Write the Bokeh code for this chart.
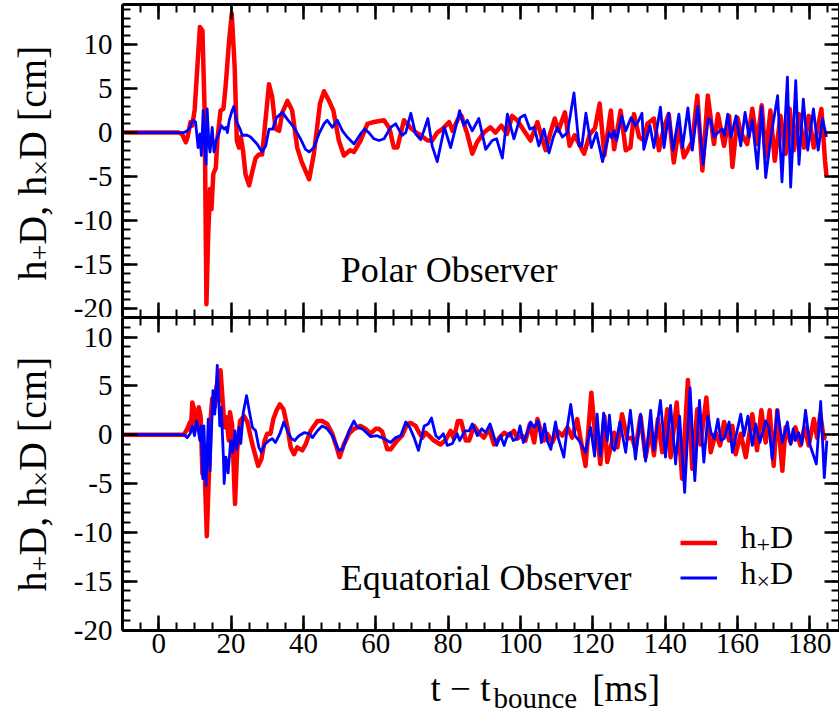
from math import pi
from bokeh.plotting import figure
from bokeh.models import (Range1d, LinearAxis, SingleIntervalTicker, Label,
                          Legend, LegendItem, CustomJSTickFormatter)
from bokeh.core.properties import value
from bokeh.layouts import column, row
from bokeh.embed import file_html
from bokeh.resources import INLINE

# ---------------- data ----------------
x_ticks_interval = 20
y_ticks_interval = 5

polar_t_plus = [
    -10, 5.6, 6.5, 7.5, 8.0, 8.8, 9.3, 9.95, 10.7, 11.4,
    12.1, 12.7, 13.2, 13.7, 14.2, 14.6, 15.1, 15.8, 16.2, 17.1,
    17.9, 18.5, 19.4, 20.2, 21.0, 21.6, 22.2, 22.7, 23.3, 24.0,
    25.0, 25.9, 26.8, 27.7, 28.6, 29.6, 30.5, 31.4, 32.3, 33.3,
    34.2, 35.6, 36.9, 38.3, 39.5, 41.6, 42.9, 44.6, 45.7, 47.1,
    48.3, 49.8, 51.2, 52.9, 54.0, 55.8, 57.7, 59.5, 62.3, 63.8,
    65.0, 66.0, 67.8, 69.5, 71.0, 72.4, 74.3, 75.6, 77.0, 78.4,
    80.3, 81.2, 82.7, 83.7, 85.3, 86.7, 88.0, 89.9, 91.7, 93.1,
    94.7, 96.3, 97.7, 99.1, 101.0, 102.8, 104.7, 106.0, 107.0, 108.3,
    109.5, 110.5, 112.3, 113.6, 115.0, 117.6, 119.2, 120.6, 121.9, 123.2,
    125.0, 125.9, 127.7, 129.1, 130.4, 131.4, 132.8, 134.1, 135.1, 136.9,
    138.3, 139.7, 141.0, 142.4, 143.8, 145.2, 147.5, 148.9, 150.3, 151.8,
    153.5, 154.6, 156.3, 157.7, 158.6, 160.0, 160.9, 162.7, 164.1, 165.4,
    166.7, 167.8, 169.1, 170.3, 171.9, 173.3, 174.4, 175.6, 177.0, 178.4,
    179.7, 181.1, 183.2, 184.2, 184.6]
polar_plus = [
    0, 0, -0.2, -1.1, -0.5, 1.2, 0.8, 2.6, 7.5, 12.0,
    11.6, 2.5, -19.5, -11.5, -6.4, -8.7, -4.7, -4.0, -0.9, 2.5,
    2.7, 5.2, 10.1, 13.5, 7.5, -0.9, -1.7, -0.5, -2.0, -4.7,
    -6.0, -4.4, -2.9, -2.5, -2.5, 1.7, 5.5, 4.0, 0.4, 0.2,
    2.3, 3.6, 2.5, -1.7, -3.3, -5.3, -2.4, 3.3, 4.7, 3.6,
    2.5, -0.9, -2.6, -2.0, -2.2, -0.9, 1.0, 1.2, 1.4, 0.5,
    -1.7, -1.7, 1.4, 0.6, 0.05, -0.3, -0.9, -0.9, 0.0, 0.4,
    1.2, 0.2, 1.5, 1.9, -0.15, -2.4, -1.1, 0.0, 0.6, 0.0,
    0.8, -0.15, 1.9, 1.4, 0.2, -0.9, 1.2, -0.7, -2.0, 0.0,
    1.6, 0.2, 2.3, -1.5, -0.3, -2.4, -0.15, 0.5, 3.3, -2.6,
    2.5, -1.9, 2.5, -2.0, -1.7, 2.1, -0.5, -0.9, 1.0, 1.6,
    -2.0, 0.6, 2.1, -3.4, 0.6, -2.8, -1.0, 4.2, -4.3, 4.2,
    -1.3, 2.1, -1.5, 1.9, -3.9, 1.7, 0.0, -1.3, 2.7, -1.3,
    3.1, -2.8, 2.5, -3.2, 1.9, -2.4, 2.7, -2.0, 2.1, -1.7,
    1.9, -1.7, 2.7, -3.2, -4.9]

polar_t_cross = [
    -10, 7.0, 7.9, 8.7, 9.0, 9.6, 10.2, 10.9, 11.4, 11.8,
    12.3, 12.7, 13.1, 13.4, 13.9, 14.2, 14.8, 15.3, 15.9, 16.7,
    17.3, 18.1, 18.6, 19.0, 19.5, 20.3, 20.8, 21.6, 22.5, 23.1,
    24.5, 25.4, 26.3, 27.2, 28.6, 29.6, 30.5, 31.5, 32.6, 34.2,
    35.6, 37.4, 39.2, 40.6, 41.6, 42.9, 44.3, 45.7, 46.6, 48.0,
    49.4, 50.8, 52.1, 54.0, 55.8, 56.9, 58.1, 59.5, 60.9, 62.3,
    64.1, 65.5, 67.3, 68.3, 69.7, 71.0, 72.4, 73.3, 74.4, 75.6,
    77.0, 79.0, 80.7, 82.1, 83.2, 84.4, 85.3, 86.7, 88.5, 90.4,
    92.2, 93.4, 95.0, 96.4, 98.2, 99.9, 101.2, 102.6, 103.8, 105.1,
    106.5, 107.9, 109.1, 110.2, 111.6, 113.0, 114.8, 116.2, 117.0, 118.1,
    119.6, 121.0, 122.7, 124.5, 125.2, 125.9, 126.6, 128.0, 129.1, 130.6,
    131.8, 132.5, 133.6, 134.1, 135.8, 136.9, 138.7, 139.7, 141.0, 142.2,
    143.8, 144.8, 146.3, 147.5, 149.0, 150.5, 151.9, 152.6, 153.5, 154.5,
    155.8, 156.4, 157.3, 158.2, 159.6, 160.9, 162.1, 163.2, 164.1, 165.5,
    166.7, 167.8, 169.3, 171.1, 172.3, 173.8, 174.7, 176.1, 177.0, 178.2,
    179.4, 181.0, 182.3, 183.5, 184.6]
polar_cross = [
    0, 0, 0.2, 0.6, 1.0, 1.4, 1.2, -1.7, -0.15, -2.6,
    2.5, -1.3, -3.6, 2.7, -1.3, -2.2, 0.6, -2.2, -0.9, 0.0,
    0.8, 0.4, 0.6, 0.0, 1.4, 2.5, 3.0, 1.2, 0.4, -0.3,
    -0.3, -0.5, -0.9, -1.3, -2.2, -1.5, 0.4, 0.4, 1.7, 2.3,
    1.5, 0.6, -0.7, -1.9, -2.2, -1.7, -0.15, 1.0, 1.4, 0.6,
    1.4, 0.2, -0.5, -1.3, -0.15, 0.4, 0.0, -0.7, -0.9, -0.7,
    0.6, 1.0, -0.3, 0.0, 2.2, -0.15, -0.8, 0.2, 1.6, -1.5,
    -3.3, 0.6, -1.7, 0.6, 2.5, 0.8, 1.4, 0.2, 1.6, -1.9,
    -0.9, -0.7, -2.9, 2.1, -0.7, 1.7, 2.0, 0.4, 0.6, -1.5,
    0.4, -2.3, -0.5, 0.6, -0.5, 0.0, 4.5, -1.5, -1.5, 2.2,
    -1.7, 0.0, -3.3, 0.0, -0.6, 0.2, -0.9, 1.9, 0.2, 1.7,
    0.8, 1.2, 2.2, -1.9, 0.8, -1.7, 2.9, -1.7, 2.2, -2.0,
    2.1, -1.7, 2.8, -2.0, 3.0, -3.6, 1.6, 1.4, -0.5, 0.0,
    0.4, -0.3, 2.1, -0.5, 1.9, -1.5, 2.3, -0.5, 1.4, -4.1,
    2.9, -5.1, -0.3, 4.2, -5.6, 6.3, -6.2, 5.9, -3.6, 3.8,
    -2.0, 2.7, -2.0, 1.6, -0.5]

equat_t_plus = [
    -10, 7.0, 7.9, 8.7, 8.9, 9.3, 9.8, 10.4, 11.1, 11.6,
    12.1, 12.6, 13.3, 13.9, 14.4, 14.8, 15.5, 16.0, 16.6, 17.1,
    18.2, 18.7, 19.4, 19.7, 20.3, 21.1, 21.7, 22.5, 23.6, 24.5,
    25.9, 27.5, 28.4, 29.3, 30.0, 30.9, 31.7, 32.6, 33.5, 34.5,
    35.6, 36.5, 37.4, 38.3, 39.7, 40.6, 42.0, 43.9, 45.2, 46.6,
    48.0, 49.2, 50.0, 51.2, 52.6, 54.0, 55.8, 57.2, 58.6, 60.0,
    60.9, 61.8, 63.2, 64.1, 65.9, 67.3, 68.7, 69.7, 71.0, 72.0,
    72.9, 73.8, 74.7, 76.1, 77.9, 79.2, 80.7, 81.6, 82.7, 83.6,
    84.9, 85.8, 87.2, 88.5, 89.9, 91.3, 92.7, 94.0, 95.5, 96.8,
    98.2, 99.1, 100.5, 101.4, 102.6, 103.8, 104.7, 105.6, 106.5, 107.4,
    108.8, 110.2, 111.6, 113.0, 114.3, 115.7, 116.6, 118.0, 119.6, 120.8,
    121.2, 122.1, 123.2, 124.0, 125.9, 126.8, 128.1, 129.5, 130.9, 131.8,
    133.2, 134.6, 136.0, 136.9, 138.0, 139.2, 140.6, 141.5, 143.2, 144.7,
    146.3, 147.5, 148.9, 149.8, 151.4, 152.6, 154.0, 155.2, 156.3, 157.7,
    158.6, 159.5, 160.9, 162.3, 164.1, 165.4, 166.6, 167.8, 168.9, 170.0,
    171.0, 172.4, 173.3, 174.7, 176.0, 177.4, 178.5, 179.7, 181.1, 182.0,
    182.9, 183.8, 184.6]
equat_plus = [
    0, 0, 0.6, 1.3, 0.4, 3.3, 2.6, 0.6, 2.8, 1.9,
    -4.0, -2.3, -10.4, -4.0, 1.8, 3.7, 2.8, 5.0, 3.5, 6.6,
    0.75, 1.8, -0.6, 2.3, 1.0, -7.1, -1.6, 1.4, 1.9, 1.3,
    -1.0, -3.2, -2.5, -0.6, 0.1, 0.1, 1.6, 2.5, 3.1, 2.6,
    0.75, -1.3, -2.0, -1.3, -1.6, -1.0, 0.4, 1.4, 1.4, 1.1,
    0.1, -1.3, -2.3, -1.0, 0.1, 0.6, 0.9, 0.6, 0.1, 0.6,
    0.6, 0.3, -1.5, -1.5, -0.6, -0.1, 1.1, 1.2, 0.9, 0.2,
    -0.3, 0.2, -0.1, -0.6, -1.0, -0.6, 0.4, -0.4, 1.4, 1.4,
    -0.6, -0.6, 0.9, 0.2, -0.3, 0.6, -1.0, -0.4, 0.2, -0.1,
    0.4, -0.4, -0.1, -0.6, 1.1, -0.8, 1.6, 0.4, -0.6, 0.1,
    -0.8, 0.4, -0.1, 0.75, -0.3, 1.6, -0.4, -3.2, 4.3, -0.6,
    -0.1, -3.0, 1.9, -2.8, 0.2, -1.3, 2.1, -0.4, -0.3, -1.5,
    1.9, -2.3, 0.6, -2.1, 1.6, -1.8, 2.6, -2.3, 3.3, -4.5,
    5.6, -3.5, 2.6, -1.0, 3.8, -1.8, 0.2, -1.1, 1.3, -0.6,
    0.9, -2.0, 0.1, -2.3, 2.1, -1.6, 2.5, -0.8, 2.5, -3.2,
    2.5, -3.7, 0.75, -0.8, 0.75, -1.1, 0.75, -1.1, 1.6, -0.3,
    2.1, -0.3, -0.4]

equat_t_cross = [
    -10, 7.0, 7.9, 8.7, 9.3, 9.9, 10.5, 11.4, 11.7, 12.2,
    12.5, 13.1, 13.7, 14.2, 15.0, 15.5, 16.2, 16.9, 17.3, 17.9,
    18.1, 18.6, 19.2, 19.9, 20.5, 21.1, 21.6, 22.2, 22.7, 23.4,
    24.3, 25.0, 25.9, 26.8, 27.7, 28.4, 29.3, 30.5, 31.4, 32.3,
    33.5, 34.6, 35.6, 36.7, 37.6, 38.8, 40.2, 41.6, 42.5, 43.9,
    45.2, 46.6, 48.0, 49.8, 50.8, 51.7, 52.6, 54.0, 54.9, 56.3,
    58.6, 60.4, 62.3, 64.1, 65.5, 66.9, 68.3, 69.4, 70.6, 71.8,
    73.4, 74.5, 75.4, 76.6, 77.5, 78.7, 79.8, 81.2, 82.5, 83.2,
    84.7, 85.8, 86.7, 88.1, 89.3, 90.4, 91.6, 92.2, 93.4, 94.5,
    95.5, 96.4, 97.1, 98.0, 99.1, 99.9, 100.8, 101.9, 102.8, 103.8,
    104.9, 105.8, 106.7, 107.4, 108.4, 109.7, 110.5, 112.0, 113.0, 113.9,
    115.1, 116.2, 118.0, 119.4, 120.5, 121.2, 122.1, 123.0, 124.0, 124.6,
    125.4, 126.0, 127.5, 129.1, 130.4, 131.8, 133.2, 134.6, 136.0, 136.9,
    138.7, 140.1, 141.5, 142.9, 144.0, 145.4, 146.9, 148.2, 149.5, 150.7,
    151.8, 152.7, 153.6, 154.6, 155.4, 156.3, 157.7, 158.6, 159.9, 160.9,
    161.8, 162.9, 164.1, 165.0, 166.2, 167.8, 168.7, 169.6, 171.0, 172.4,
    173.8, 174.7, 175.4, 176.0, 176.9, 177.8, 178.8, 180.0, 181.8, 183.0,
    184.0, 184.7]
equat_cross = [
    0, 0, -0.3, 0.1, 0.9, -0.1, 1.4, -0.6, 0.9, -4.5,
    0.9, -5.2, 1.6, -3.7, 4.5, 2.1, 7.1, 0.9, 2.8, -2.3,
    -5.0, -2.3, -3.9, -0.6, -1.8, 0.4, -1.5, 0.75, -0.9, 2.3,
    4.0, 2.5, 0.75, 0.4, -1.3, -1.8, -1.0, -0.6, -0.4, -0.8,
    0.1, 1.3, 0.4, -0.4, -0.6, -0.1, 0.2, 0.1, -0.3, 0.4,
    0.9, 0.6, -0.1, -1.6, -1.5, -0.6, 0.4, 1.4, 0.75, 0.6,
    -0.2, -0.1, -0.4, -0.8, -0.3, -0.1, 1.3, 0.75, -0.3, -1.6,
    0.9, 1.1, 1.7, -0.1, -0.4, 0.1, -1.1, -0.9, 0.1, -0.6,
    0.4, 0.4, 1.1, -0.1, 0.6, 0.2, 1.1, 0.4, -1.1, -0.1,
    -1.1, -0.1, 0.2, -0.6, -0.4, 0.9, -0.8, 0.2, 1.3, 0.75,
    1.4, -0.8, 1.1, -0.6, -1.5, 1.3, -0.4, -2.3, 0.9, 3.1,
    -0.1, -0.6, -1.8, 0.75, -2.2, 2.1, -2.2, 2.2, -0.6, 2.0,
    -1.3, -1.6, 1.3, -1.8, 2.5, -2.5, 2.1, -2.7, 2.5, -1.6,
    3.5, -2.3, 3.0, -3.0, 1.9, -5.9, 4.8, -4.7, 3.5, -2.8,
    1.9, 0.2, -0.4, 1.6, -0.6, -0.4, 1.3, -1.8, 0.4, 2.1,
    -0.1, 1.9, -1.1, 1.1, -0.8, 1.4, 0.75, -2.5, 2.5, -0.8,
    1.3, -1.0, 0.6, -0.6, 0.2, -1.0, 2.5, -1.0, -3.0, 3.4,
    -4.4, -0.6]

for a, b in [(polar_t_plus, polar_plus), (polar_t_cross, polar_cross),
             (equat_t_plus, equat_plus), (equat_t_cross, equat_cross)]:
    assert len(a) == len(b), (len(a), len(b))

# ---------------- styling helpers ----------------
FONT = "Liberation Serif"
RED = "#ff0000"
BLUE = "#0000ff"
BASE = 0.33   # text anchor -> baseline offset, in em

# approximate advance widths (em) of Liberation Serif glyphs
W = {'h': .5, 'D': .722, ',': .25, ' ': .25, '[': .333, ']': .333, 'c': .444,
     'm': .778, '+': .564, '×': .564, 't': .278, '−': .564, 'b': .5, 'o': .5,
     'u': .5, 'n': .5, 'e': .444, 's': .389}


def tw(s, size):
    return sum(W.get(ch, 0.5) for ch in s) * size


def pieces(p, parts, x, y, vertical=False):
    """parts: (text, font px, subscript drop px, gap after px); x, y = baseline start."""
    for txt, size, shift, gap in parts:
        if vertical:
            lab = Label(x=x + shift - BASE * size, y=y, x_units="screen",
                        y_units="screen", text=txt, angle=pi / 2,
                        text_font=FONT, text_font_size=f"{size}px",
                        text_color="black", text_align="left",
                        text_baseline="alphabetic")
            y += tw(txt, size) + gap
        else:
            lab = Label(x=x, y=y - shift + BASE * size, x_units="screen",
                        y_units="screen", text=txt, text_font=FONT,
                        text_font_size=f"{size}px", text_color="black",
                        text_align="left", text_baseline="alphabetic")
            x += tw(txt, size) + gap
        p.add_layout(lab)


def axis(ticker, labels, standoff=10):
    ax = LinearAxis(ticker=ticker)
    ax.axis_line_width = 3
    ax.axis_line_color = "black"
    ax.major_tick_line_color = "black"
    ax.minor_tick_line_color = "black"
    ax.major_tick_line_width = 2.5
    ax.minor_tick_line_width = 2
    ax.major_tick_in = 15
    ax.major_tick_out = 0
    ax.minor_tick_in = 8
    ax.minor_tick_out = 0
    if labels:
        ax.formatter = CustomJSTickFormatter(code="return String(Math.round(tick));")
        ax.major_label_text_font = FONT
        ax.major_label_text_font_size = "29px"
        ax.major_label_text_color = "black"
        ax.major_label_standoff = standoff
    else:
        ax.formatter = CustomJSTickFormatter(code="return '';")
        ax.major_label_text_font_size = "1px"
        ax.major_label_standoff = 0
    return ax


def xt():
    return SingleIntervalTicker(interval=x_ticks_interval, num_minor_ticks=4)


def yt():
    return SingleIntervalTicker(interval=y_ticks_interval, num_minor_ticks=5)


def blank(width, height):
    f = figure(width=width, height=height, x_axis_type=None, y_axis_type=None,
               x_range=Range1d(0, width), y_range=Range1d(0, height),
               output_backend="svg", toolbar_location=None,
               min_border=0, min_border_left=0, min_border_right=0,
               min_border_top=0, min_border_bottom=0)
    f.outline_line_color = None
    return f


def panel_title(p, text, t_left, v_anchor, size=36):
    """Panel caption as a text glyph: left edge time, anchor value."""
    p.text(x=[t_left], y=[v_anchor], text=[text],
           text_font=value(FONT), text_font_size=value(f"{size}px"),
           text_color="black", text_align="left", text_baseline="alphabetic")


LEFT_W = 60
x_range = Range1d(-10, 188.2)

# ---------------- top panel: polar observer ----------------
p1 = figure(width=839 - LEFT_W, height=317, x_range=x_range,
            y_range=Range1d(-21.0, 14.55), x_axis_type=None, y_axis_type=None,
            output_backend="svg", toolbar_location=None,
            min_border_left=122 - LEFT_W, min_border_right=0, min_border_top=4,
            min_border_bottom=0)
p1.outline_line_color = None
p1.add_layout(axis(yt(), True, 10), "left")
p1.add_layout(axis(yt(), False), "right")
p1.add_layout(axis(xt(), False), "above")
p1.add_layout(axis(xt(), False), "below")
p1.line(polar_t_plus, polar_plus, color=RED, line_width=4.5, line_join="round")
p1.line(polar_t_cross, polar_cross, color=BLUE, line_width=2.8, line_join="round")
panel_title(p1, "Polar Observer", 50.3, -15.55)

# ---------------- bottom panel: equatorial observer ----------------
P2_BB = 36
P2_H = 313 + P2_BB
p2 = figure(width=839 - LEFT_W, height=P2_H, x_range=x_range,
            y_range=Range1d(-20.05, 12.0), x_axis_type=None, y_axis_type=None,
            output_backend="svg", toolbar_location=None,
            min_border_left=122 - LEFT_W, min_border_right=0, min_border_top=0,
            min_border_bottom=P2_BB)
p2.outline_line_color = None
p2.add_layout(axis(yt(), True, 10), "left")
p2.add_layout(axis(yt(), False), "right")
p2.add_layout(axis(xt(), False), "above")
p2.add_layout(axis(xt(), True, 3), "below")
r_plus = p2.line(equat_t_plus, equat_plus, color=RED, line_width=4.5, line_join="round")
r_cross = p2.line(equat_t_cross, equat_cross, color=BLUE, line_width=2.8, line_join="round")
panel_title(p2, "Equatorial Observer", 50.3, -14.68)

legend = Legend(items=[LegendItem(label=" ", renderers=[r_plus]),
                       LegendItem(label=" ", renderers=[r_cross])],
                location=(558, 35), glyph_width=37, glyph_height=35,
                label_height=35, label_width=0, padding=0, spacing=0,
                margin=0, label_standoff=0, label_text_font_size="1px",
                border_line_color=None, background_fill_alpha=0)
p2.add_layout(legend)
pieces(p2, [("h", 32, 0, 0), ("+", 24, 5, 0), ("D", 32, 0, 0)], 618, 630 - 547)
pieces(p2, [("h", 32, 0, 0), ("×", 24, 5, 0), ("D", 32, 0, 0)], 618, 630 - 583)

# ---------------- axis titles (own strips, so nothing is clipped) -------
ylab = [("h", 40, 0, 0), ("+", 28, 4, 0), ("D, h", 40, 0, 0),
        ("×", 28, 4, 0), ("D [cm]", 40, 0, 0)]
left_strip = blank(LEFT_W, 713)
pieces(left_strip, ylab, 45, 713 - 280, vertical=True)
pieces(left_strip, ylab, 45, 713 - 591, vertical=True)

XL_H = 713 - 317 - P2_H
bottom_strip = blank(839 - LEFT_W, XL_H)
pieces(bottom_strip, [("t − t", 37, 0, 3), ("bounce", 29, 7, 15), ("[ms]", 37, 0, 0)],
       368 - LEFT_W, 713 - 700)

layout = row(left_strip, column(p1, p2, bottom_strip, spacing=0), spacing=0)
open("out.html", "w").write(file_html(layout, INLINE))
